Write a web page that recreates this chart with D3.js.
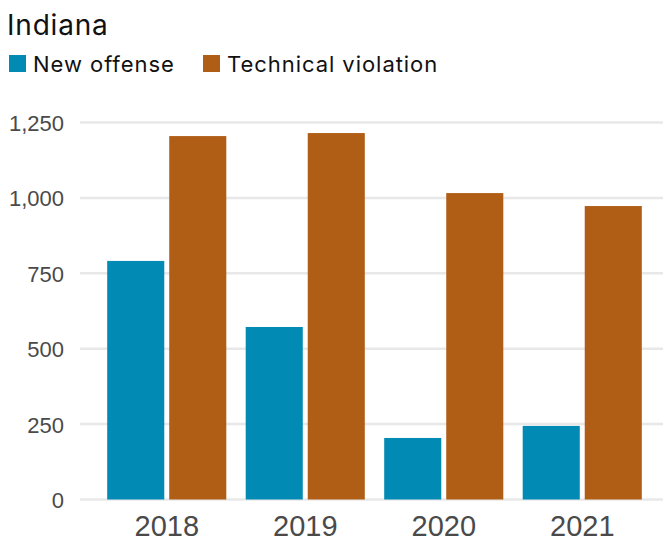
<!DOCTYPE html>
<html>
<head>
<meta charset="utf-8">
<script src="https://cdn.jsdelivr.net/npm/d3@7"></script>
<style>
  html, body { margin: 0; padding: 0; background: #fff; }
  svg { display: block; }
</style>
</head>
<body>
<svg id="chart" width="663" height="538"></svg>
<script>
// Revocations in Indiana by type
const years = ["2018", "2019", "2020", "2021"];
const seriesNames = ["New offense", "Technical violation"];
const newOffense = [791, 572, 204, 244];
const technicalViolation = [1205, 1215, 1016, 973];
const yTicks = [0, 250, 500, 750, 1000, 1250];
const colors = ["#008ab4", "#b05e16"];

const series = [newOffense, technicalViolation];

const svg = d3.select("#chart");
const W = 663, H = 538;

const titleFont = "Inter, 'Noto Sans', sans-serif";
const axisFont = "'Liberation Sans', Arial, sans-serif";

// Title
svg.append("text")
  .attr("x", 7).attr("y", 35)
  .attr("font-family", titleFont)
  .attr("font-size", 28)
  .attr("letter-spacing", 0.8)
  .attr("fill", "#111")
  .text("Indiana");

// Legend
const legendX = [9, 203];
seriesNames.forEach((name, i) => {
  const g = svg.append("g").attr("transform", `translate(${legendX[i]},55)`);
  g.append("rect").attr("width", 17).attr("height", 17).attr("fill", colors[i]);
  g.append("text")
    .attr("x", 24).attr("y", 17)
    .attr("font-family", titleFont)
    .attr("font-size", 22)
    .attr("letter-spacing", 0.95)
    .attr("fill", "#111")
    .text(name);
});

// Scales
const y = d3.scaleLinear().domain([0, 1250]).range([499.5, 122.5]);
const x0 = d3.scaleBand().domain(years).range([97.5, 651.5])
  .paddingInner(0.14).paddingOuter(0.07);
const x1 = d3.scaleBand().domain(d3.range(series.length))
  .range([0, x0.bandwidth()]).paddingInner(0.08);

// Gridlines
svg.append("g")
  .selectAll("line")
  .data(yTicks)
  .join("line")
  .attr("x1", 80).attr("x2", W)
  .attr("y1", d => y(d)).attr("y2", d => y(d))
  .attr("stroke", "#e8e8e8")
  .attr("stroke-width", 2.5);

// Y axis labels
const yAxis = d3.axisLeft(y).tickValues(yTicks).tickFormat(d3.format(",")).tickSize(0).tickPadding(0);
svg.append("g")
  .attr("transform", "translate(64,0)")
  .call(yAxis)
  .call(g => g.select(".domain").remove())
  .call(g => g.selectAll("text")
    .attr("font-family", axisFont)
    .attr("font-size", 22)
    .attr("fill", "#4a4a4a")
    .attr("dy", "0.36em"));

// Bars
const groups = svg.append("g")
  .selectAll("g")
  .data(years)
  .join("g")
  .attr("transform", d => `translate(${x0(d)},0)`);

groups.selectAll("rect")
  .data((d, i) => series.map((s, k) => ({ k, v: s[i] })))
  .join("rect")
  .attr("x", d => x1(d.k))
  .attr("width", x1.bandwidth())
  .attr("y", d => y(d.v))
  .attr("height", d => y(0) - y(d.v))
  .attr("fill", d => colors[d.k]);

// X axis labels
const xAxis = d3.axisBottom(x0).tickSize(0).tickPadding(0);
svg.append("g")
  .attr("transform", "translate(0,536)")
  .call(xAxis)
  .call(g => g.select(".domain").remove())
  .call(g => g.selectAll("text")
    .attr("font-family", axisFont)
    .attr("font-size", 29)
    .attr("fill", "#4a4a4a")
    .attr("dy", 0)
    .attr("y", 0));
</script>
</body>
</html>
